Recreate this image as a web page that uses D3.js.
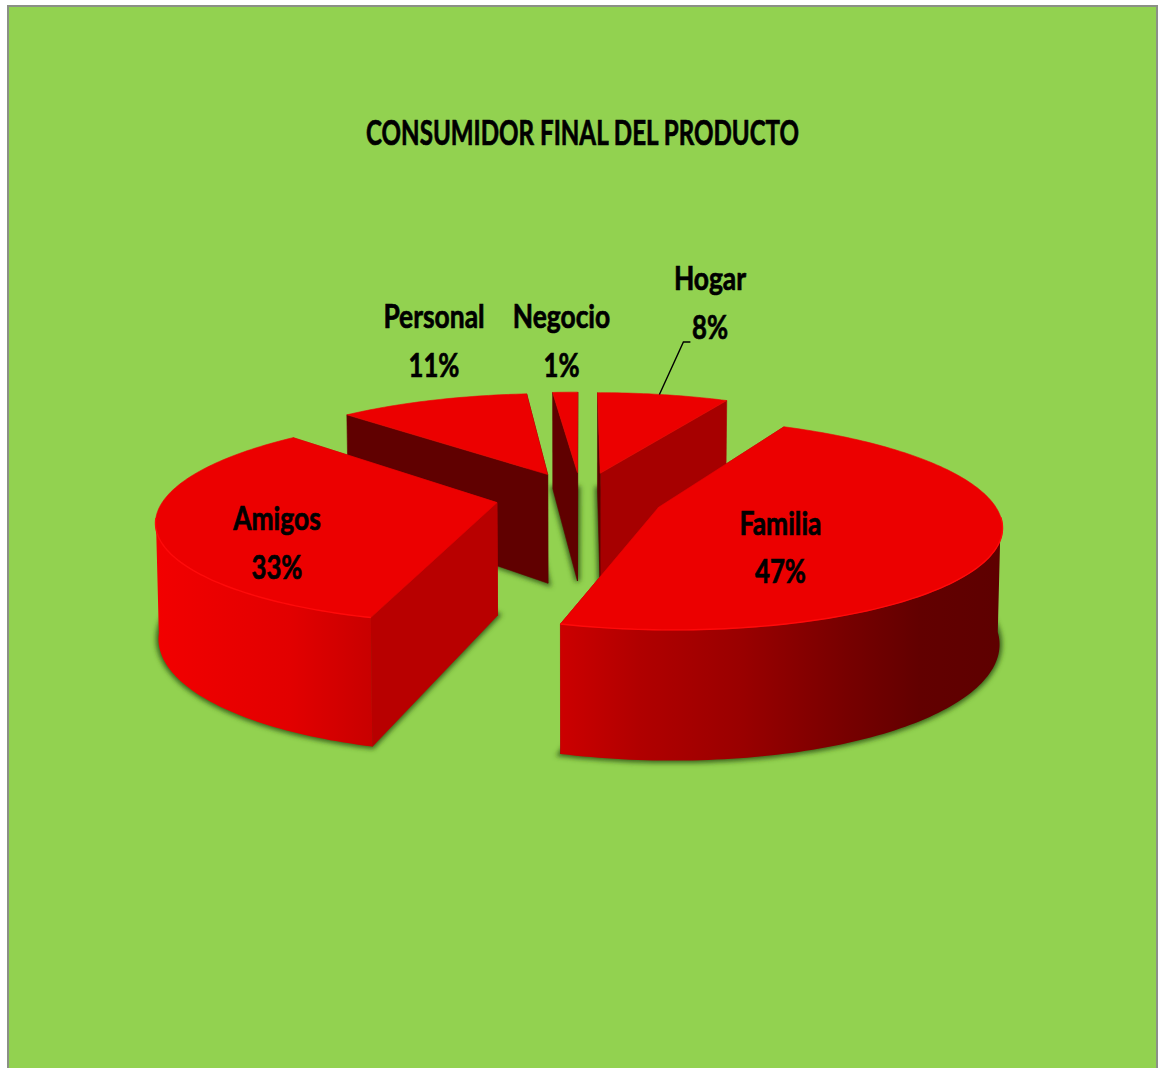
<!DOCTYPE html>
<html lang="es">
<head>
<meta charset="utf-8">
<title>Consumidor final del producto</title>
<script src="https://cdn.jsdelivr.net/npm/d3@7/dist/d3.min.js"></script>
<style>
  html, body { margin: 0; padding: 0; background: #fff; }
  svg { display: block; }
  text { font-family: Lato, "Open Sans", sans-serif; font-weight: 700; fill: #000; stroke: #000; stroke-width: 0.7px; }
</style>
</head>
<body>
<svg id="chart" width="1158" height="1068"></svg>
<script>
// Chart content
const chartTitle = "CONSUMIDOR FINAL DEL PRODUCTO";
const categories = ["Hogar", "Familia", "Amigos", "Personal", "Negocio"];
const shares = [8, 47, 33, 11, 1];

// Label placement: centre x, name baseline, percent baseline
const labelX = [710, 780.5, 277, 434, 561.5];
const nameBaseline = [290, 535, 530, 328, 328];
const percentBaseline = [339, 583, 579, 377, 377];

// Wall colours for the cut faces at each slice's start and end angle
const startWall = ["#5c0000", "#a60000", "#b80000", "#600000", "#600000"];
const endWall = ["#a60000", "#a60000", "#b80000", "#600000", "#600000"];

// Rim shading, left to right across each lit curved side
const rimStops = [
  { offset: 157, color: "#f20000" }, { offset: 290, color: "#e20000" }, { offset: 373, color: "#c80000" },
  { offset: 560, color: "#cc0000" }, { offset: 640, color: "#b00000" }, { offset: 740, color: "#9a0000" },
  { offset: 850, color: "#760000" }, { offset: 920, color: "#620000" }, { offset: 1000, color: "#5e0000" }
];

const W = 1158, H = 1068;
const svg = d3.select("#chart");

// Projection of the tilted disc
const centerX = 580, centerY = 497, radiusX = 332, radiusY = 100;
const perspective = 0.156, heightPerspective = 0.13, depth = 112, explode = 0.254;
const bottomShrink = 0.993;
const viewTurn = 1.6 * Math.PI / 180, turnFade = 2 * Math.PI / 180;

const xScale = d3.scaleLinear().domain([-1, 1]).range([centerX - radiusX, centerX + radiusX]);
const yScale = d3.scaleLinear().domain([-1, 1]).range([centerY + radiusY, centerY - radiusY]);

const pie = d3.pie().sort(null).value(d => d);
const arcs = pie(shares).map((a, i) => ({ ...a, i, mid: (a.startAngle + a.endAngle) / 2 }));

function project(X, Y, bottom) {
  const w = 1 + perspective * Y;
  let sx = xScale(X / w), sy = yScale(Y / w);
  if (bottom) {
    sx = centerX + (sx - centerX) * bottomShrink;
    sy += depth / (1 + heightPerspective * Y);
  }
  return [sx, sy];
}

function offsetOf(a) {
  return [explode * Math.sin(a.mid), explode * Math.cos(a.mid)];
}

function apex(a, bottom) {
  const [ox, oy] = offsetOf(a);
  return project(ox, oy, bottom);
}

// The view turns the rim slightly, except at 12 o'clock where the cuts stay upright
function rimPoint(a, t, bottom) {
  const [ox, oy] = offsetOf(a);
  const fade = Math.min(1, t / turnFade, (2 * Math.PI - t) / turnFade);
  const s = t - viewTurn * Math.max(0, fade);
  return project(ox + Math.sin(s), oy + Math.cos(s), bottom);
}

function rimPath(a, t0, t1, bottom) {
  const n = Math.max(2, Math.ceil(Math.abs(t1 - t0) / 0.02));
  return d3.range(n + 1).map(k => rimPoint(a, t0 + (t1 - t0) * k / n, bottom));
}

const polygon = d3.line().curve(d3.curveLinearClosed);
const polyline = d3.line();

// Defs: rim gradient and the soft ground shadow
const defs = svg.append("defs");
const gradient = defs.append("linearGradient")
  .attr("id", "rimShade").attr("gradientUnits", "userSpaceOnUse")
  .attr("x1", 157).attr("x2", 1000).attr("y1", 0).attr("y2", 0);
gradient.selectAll("stop").data(rimStops).join("stop")
  .attr("offset", d => (d.offset - 157) / (1000 - 157))
  .attr("stop-color", d => d.color);
defs.append("filter").attr("id", "groundBlur")
  .attr("x", "-10%").attr("y", "-10%").attr("width", "120%").attr("height", "120%")
  .append("feGaussianBlur").attr("stdDeviation", 2.6);

// Plot area
svg.append("rect").attr("width", W).attr("height", H).attr("fill", "#fff");
svg.append("rect")
  .attr("x", 8).attr("y", 6).attr("width", 1149).attr("height", H)
  .attr("fill", "#92d250").attr("stroke", "#8b9086").attr("stroke-width", 2);

// Title
svg.append("text")
  .attr("transform", "translate(582.5,145) scale(0.71,1)")
  .attr("text-anchor", "middle").attr("font-size", 34)
  .text(chartTitle);

// Ground shadows
svg.append("g").attr("filter", "url(#groundBlur)")
  .selectAll("path").data(arcs).join("path")
  .attr("d", a => polygon([apex(a, true), ...rimPath(a, a.startAngle, a.endAngle, true)]))
  .attr("fill", "#3b641a").attr("stroke", "#3b641a").attr("stroke-width", 5);

// Slices, far to near
const visibleFrom = 97 * Math.PI / 180, visibleTo = 263 * Math.PI / 180;
const ordered = arcs.slice().sort((p, q) => Math.cos(q.mid) - Math.cos(p.mid));

ordered.forEach(a => {
  const g = svg.append("g").attr("class", "slice").attr("data-name", categories[a.i]);
  const wall = (t, color) => g.append("path")
    .attr("d", polygon([apex(a, false), rimPoint(a, t, false), rimPoint(a, t, true), apex(a, true)]))
    .attr("fill", color).attr("stroke", color).attr("stroke-width", 0.6);

  wall(a.endAngle, endWall[a.i]);
  wall(a.startAngle, startWall[a.i]);

  const t0 = Math.max(a.startAngle, visibleFrom), t1 = Math.min(a.endAngle, visibleTo);
  if (t1 > t0) {
    const upper = rimPath(a, t0, t1, false), lower = rimPath(a, t0, t1, true).reverse();
    g.append("path").attr("d", polygon([...upper, ...lower]))
      .attr("fill", "url(#rimShade)");
  }

  g.append("path")
    .attr("d", polygon([apex(a, false), ...rimPath(a, a.startAngle, a.endAngle, false)]))
    .attr("fill", "#ec0000").attr("stroke", "#ec0000").attr("stroke-width", 0.6);

  if (t1 > t0) {
    g.append("path").attr("d", polyline(rimPath(a, t0, t1, false)))
      .attr("fill", "none").attr("stroke", "#ff0a0a").attr("stroke-width", 1.4);
  }
});

// Leader line for the small back slice
const hogar = arcs[0];
const leaderStart = rimPoint(hogar, hogar.mid, false);
svg.append("path")
  .attr("d", polyline([leaderStart, [leaderStart[0] + 24, 342], [leaderStart[0] + 31, 342]]))
  .attr("fill", "none").attr("stroke", "#000").attr("stroke-width", 1.4);

// Data labels
const labels = svg.append("g").selectAll("g").data(arcs).join("g");
labels.append("text")
  .attr("transform", a => `translate(${labelX[a.i]},${nameBaseline[a.i]}) scale(0.8,1)`)
  .attr("text-anchor", "middle").attr("font-size", 33)
  .text(a => categories[a.i]);
labels.append("text")
  .attr("transform", a => `translate(${labelX[a.i]},${percentBaseline[a.i]}) scale(0.78,1)`)
  .attr("text-anchor", "middle").attr("font-size", 33)
  .text(a => `${a.value}%`);
</script>
</body>
</html>
